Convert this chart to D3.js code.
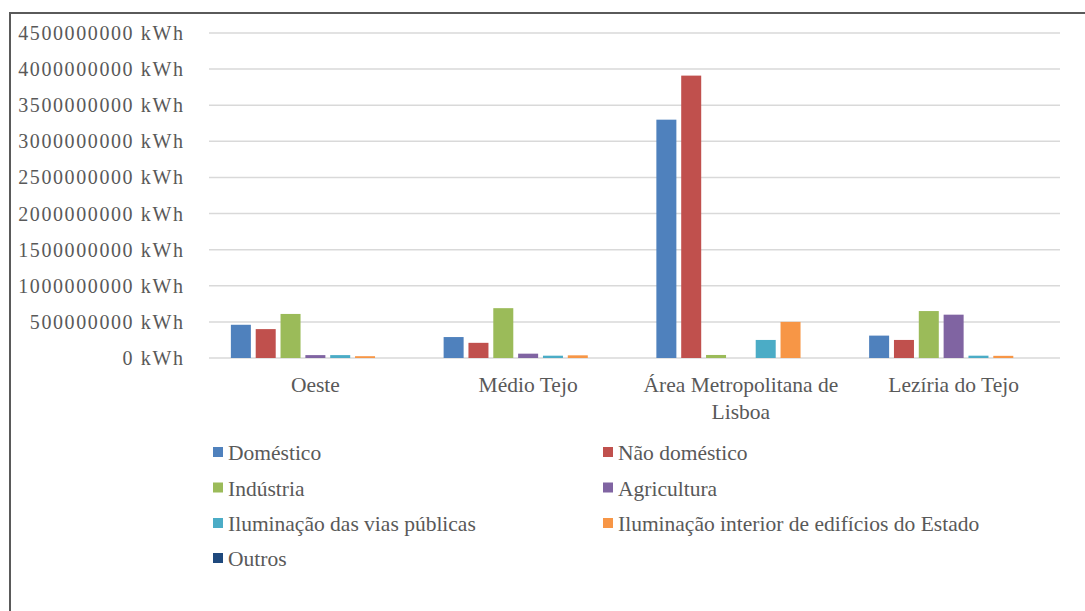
<!DOCTYPE html>
<html>
<head>
<meta charset="utf-8">
<script src="https://cdn.jsdelivr.net/npm/d3@7"></script>
<style>
  html, body { margin: 0; padding: 0; background: #fff; }
  svg { display: block; }
  svg text { font-family: "Liberation Serif", "Times New Roman", Times, "DejaVu Serif", serif; }
</style>
</head>
<body>
<svg id="chart" width="1085" height="611"></svg>
<script>
// ---- Data ----
const categories = ["Oeste", "Médio Tejo", "Área Metropolitana de Lisboa", "Lezíria do Tejo"];
const categoryLines = [["Oeste"], ["Médio Tejo"], ["Área Metropolitana de", "Lisboa"], ["Lezíria do Tejo"]];
const seriesNames = ["Doméstico", "Não doméstico", "Indústria", "Agricultura",
  "Iluminação das vias públicas", "Iluminação interior de edifícios do Estado", "Outros"];
const seriesColors = ["#4F81BD", "#C0504D", "#9BBB59", "#8064A2", "#4BACC6", "#F79646", "#1F497D"];
// values in kWh, per series, in category order
const domestico    = [460000000, 290000000, 3300000000, 310000000];
const naoDomestico = [400000000, 210000000, 3910000000, 250000000];
const industria    = [610000000, 690000000, 42000000, 650000000];
const agricultura  = [40000000, 60000000, 0, 600000000];
const iluminacaoVias = [40000000, 32000000, 250000000, 32000000];
const iluminacaoEstado = [25000000, 37000000, 500000000, 30000000];
const outros       = [0, 0, 0, 0];
const seriesValues = [domestico, naoDomestico, industria, agricultura, iluminacaoVias, iluminacaoEstado, outros];
const yTicks = [0, 500000000, 1000000000, 1500000000, 2000000000, 2500000000, 3000000000, 3500000000, 4000000000, 4500000000];

// ---- Layout ----
const svg = d3.select("#chart");
const plotLeft = 209, plotRight = 1060, plotTop = 33, plotBottom = 358;
const textColor = "#595959";

// frame (left and top edges visible)
svg.append("path")
  .attr("d", "M10,1085 L10,13 L1085,13")
  .attr("fill", "none").attr("stroke", "#5a5a5a").attr("stroke-width", 2);

const y = d3.scaleLinear().domain([0, 4500000000]).range([plotBottom, plotTop]);
const x0 = d3.scaleBand().domain(categories).range([plotLeft, plotRight])
  .paddingInner(0.2056).paddingOuter(0.1028);
const x1 = d3.scaleBand().domain(seriesNames).range([0, x0.bandwidth()]).paddingInner(0.1946);

// gridlines
svg.append("g").selectAll("line").data(yTicks).join("line")
  .attr("x1", plotLeft).attr("x2", plotRight)
  .attr("y1", d => y(d)).attr("y2", d => y(d))
  .attr("stroke", "#d9d9d9").attr("stroke-width", 1.5);

// y tick labels
const fmt = d => d3.format("d")(d) + " kWh";
svg.append("g").selectAll("text").data(yTicks).join("text")
  .attr("x", 184.5).attr("y", d => y(d) + 7)
  .attr("text-anchor", "end")
  .attr("font-size", 20)
  .attr("letter-spacing", 1.6)
  .attr("fill", textColor)
  .text(fmt);

// bars
const groups = svg.append("g").selectAll("g").data(categories).join("g")
  .attr("transform", d => `translate(${x0(d)},0)`);
groups.selectAll("rect")
  .data((c, ci) => seriesNames.map((s, si) => ({ s, si, v: seriesValues[si][ci] })))
  .join("rect")
  .attr("x", d => x1(d.s))
  .attr("width", x1.bandwidth())
  .attr("y", d => y(d.v))
  .attr("height", d => plotBottom - y(d.v))
  .attr("fill", d => seriesColors[d.si]);

// category labels
const catG = svg.append("g").selectAll("text").data(categories).join("text")
  .attr("x", d => x0(d) + x0.bandwidth() / 2)
  .attr("y", 392)
  .attr("text-anchor", "middle")
  .attr("font-size", 21.5)
  .attr("fill", textColor);
catG.each(function(d, i) {
  const t = d3.select(this);
  categoryLines[i].forEach((line, li) => {
    t.append("tspan").attr("x", x0(d) + x0.bandwidth() / 2).attr("dy", li === 0 ? 0 : 26.5).text(line);
  });
});

// legend
const legCols = [213, 603];
const legRowY = [452, 487.5, 523, 558];
const leg = svg.append("g").selectAll("g").data(seriesNames).join("g")
  .attr("transform", (d, i) => `translate(${legCols[i % 2]},${legRowY[Math.floor(i / 2)]})`);
leg.append("rect").attr("x", 0).attr("y", -5).attr("width", 10).attr("height", 10)
  .attr("fill", (d, i) => seriesColors[i]);
leg.append("text").attr("x", 15).attr("y", 8)
  .attr("font-size", 21.5)
  .attr("fill", textColor)
  .text(d => d);
</script>
</body>
</html>
